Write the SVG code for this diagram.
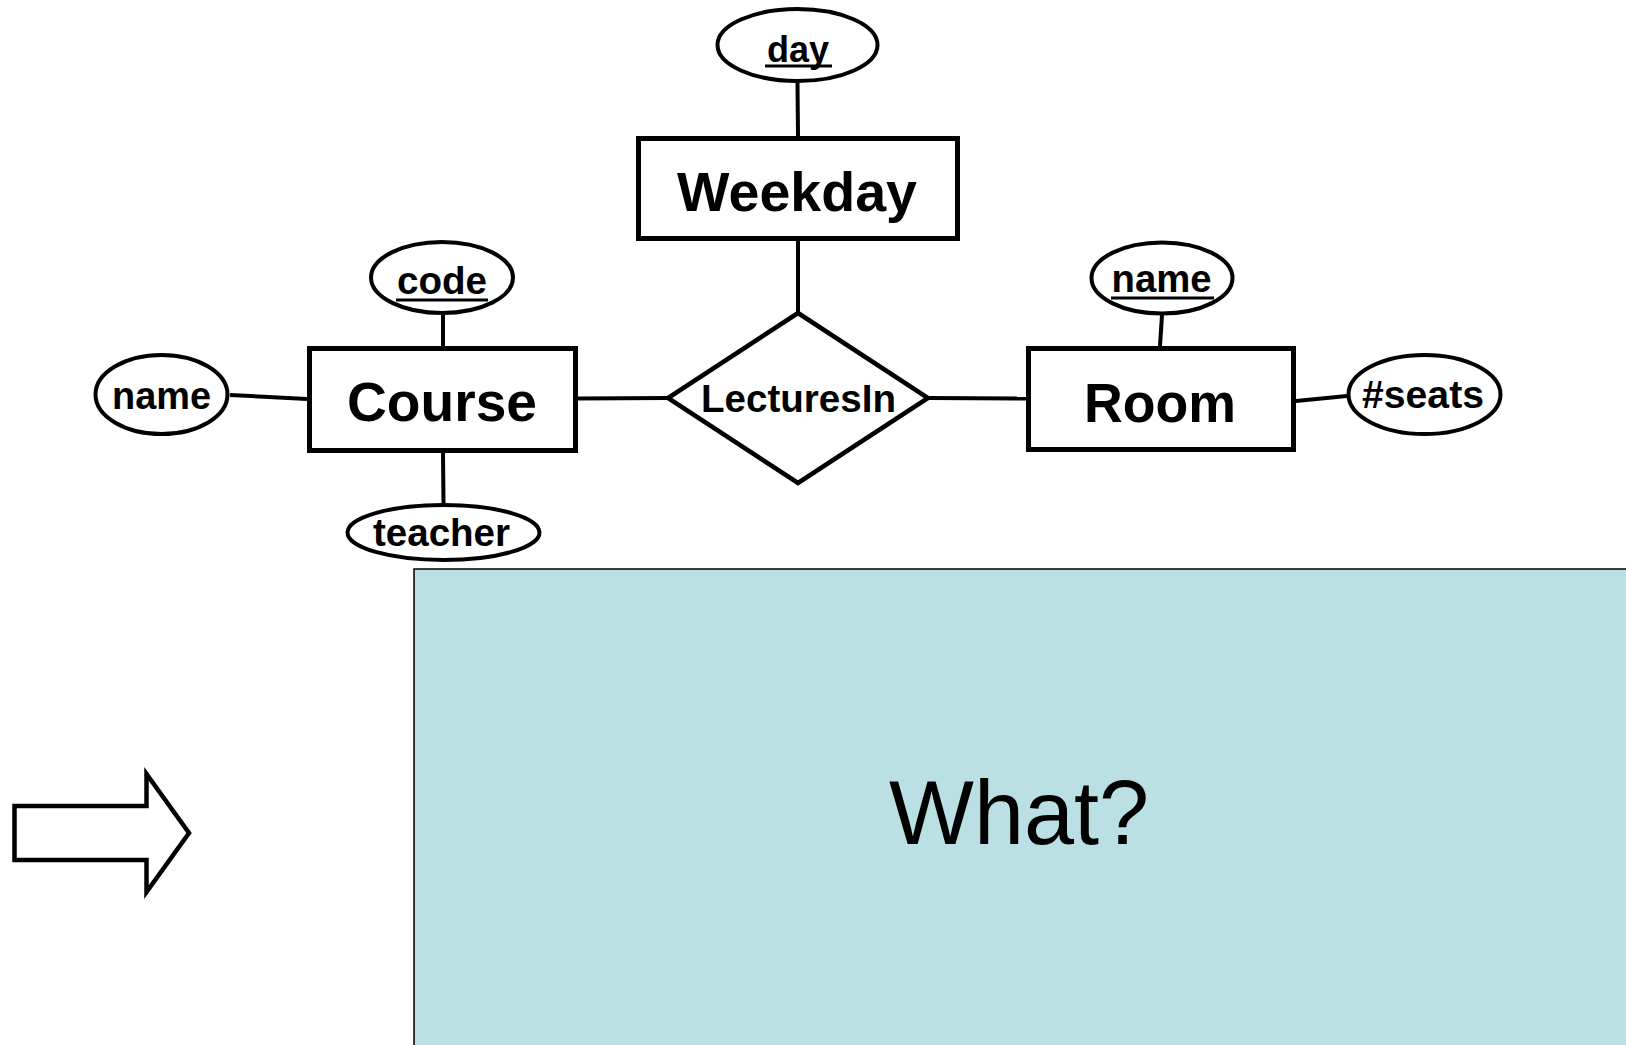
<svg xmlns="http://www.w3.org/2000/svg" width="1626" height="1045" viewBox="0 0 1626 1045">
<style>
.ent{fill:#fff;stroke:#000;stroke-width:5}
.att{fill:#fff;stroke:#000;stroke-width:4}
.rel{fill:#fff;stroke:#000;stroke-width:4.5}
.con line{stroke:#000;stroke-width:4}
.t{font-family:"Liberation Sans",Arial,sans-serif;font-weight:bold;fill:#000;text-anchor:middle}
.big{font-size:56px}
.sm{font-size:38px}
</style>
<rect width="1626" height="1045" fill="#fff"/>
<g id="connectors" class="con">
<line x1="797.5" y1="83" x2="798" y2="136"/>
<line x1="798" y1="241" x2="798" y2="313"/>
<line x1="443" y1="315" x2="443" y2="346"/>
<line x1="230" y1="395" x2="307" y2="399"/>
<line x1="443" y1="453" x2="443.5" y2="503"/>
<line x1="578" y1="398.5" x2="668" y2="398"/>
<line x1="928" y1="398" x2="1026" y2="398.5"/>
<line x1="1162" y1="315" x2="1160" y2="346"/>
<line x1="1296" y1="401" x2="1347" y2="396"/>
</g>
<g id="day">
<ellipse class="att" cx="797.5" cy="45" rx="80" ry="36"/>
<text class="t" x="798" y="62" font-size="36">day</text>
<line x1="765" y1="66" x2="832" y2="66" stroke="#000" stroke-width="3"/>
</g>
<g id="weekday">
<rect class="ent" x="638.5" y="138.5" width="319" height="100"/>
<text class="t big" x="797" y="211" textLength="240" lengthAdjust="spacingAndGlyphs">Weekday</text>
</g>
<g id="code">
<ellipse class="att" cx="442" cy="277.5" rx="71" ry="35.5"/>
<text class="t sm" x="442" y="294" textLength="90" lengthAdjust="spacingAndGlyphs">code</text>
<line x1="396" y1="300" x2="488" y2="300" stroke="#000" stroke-width="3"/>
</g>
<g id="course">
<rect class="ent" x="309.5" y="348.5" width="266" height="102"/>
<text class="t big" x="442" y="421" textLength="190" lengthAdjust="spacingAndGlyphs">Course</text>
</g>
<g id="name-course">
<ellipse class="att" cx="161.5" cy="394.5" rx="66" ry="39.5"/>
<text class="t sm" x="161.5" y="409" textLength="99" lengthAdjust="spacingAndGlyphs">name</text>
</g>
<g id="teacher">
<ellipse class="att" cx="443.5" cy="532.5" rx="96" ry="27.5"/>
<text class="t sm" x="441.5" y="546" textLength="137" lengthAdjust="spacingAndGlyphs">teacher</text>
</g>
<g id="lecturesin">
<polygon class="rel" points="798,313 928,398 798,483 668,398"/>
<text class="t sm" x="798.5" y="412" textLength="195" lengthAdjust="spacingAndGlyphs">LecturesIn</text>
</g>
<g id="name-room">
<ellipse class="att" cx="1162" cy="278" rx="70.5" ry="35.5"/>
<text class="t sm" x="1161.5" y="292" textLength="100" lengthAdjust="spacingAndGlyphs">name</text>
<line x1="1111" y1="298" x2="1214" y2="298" stroke="#000" stroke-width="3"/>
</g>
<g id="room">
<rect class="ent" x="1028.5" y="348.5" width="265" height="101"/>
<text class="t big" x="1160" y="422" textLength="152" lengthAdjust="spacingAndGlyphs">Room</text>
</g>
<g id="seats">
<ellipse class="att" cx="1424.5" cy="394.5" rx="76" ry="39.5"/>
<text class="t sm" x="1423" y="408" textLength="122" lengthAdjust="spacingAndGlyphs">#seats</text>
</g>
<g id="arrow">
<polygon points="14.5,806 146.5,806 146.5,774 189,833 146.5,892 146.5,860 14.5,860" fill="#fff" stroke="#000" stroke-width="4.5"/>
</g>
<g id="what-box">
<rect x="414" y="569" width="1230" height="500" fill="#BAE0E3" stroke="#000" stroke-width="1.5"/>
<text x="1019" y="844" font-family="'Liberation Sans',Arial,sans-serif" font-size="90" text-anchor="middle" fill="#000">What?</text>
</g>
</svg>
